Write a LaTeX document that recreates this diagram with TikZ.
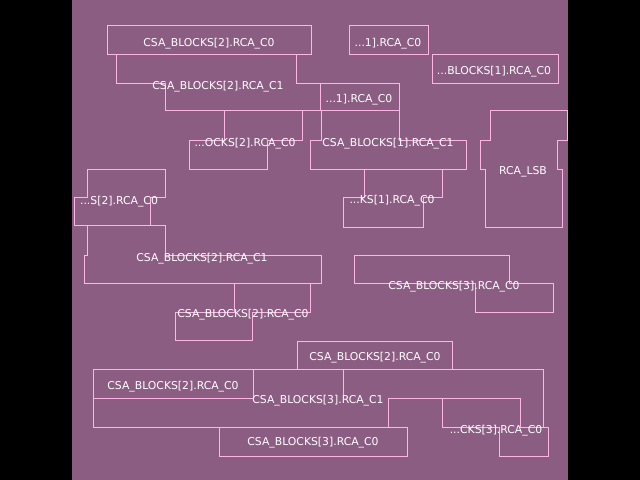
\documentclass[tikz,border=0pt]{standalone}
\usepackage{fontspec}
\setsansfont{DejaVu Sans}
\usetikzlibrary{positioning}
\definecolor{floorbg}{RGB}{140,93,130}
\definecolor{regionline}{RGB}{255,180,230}
\tikzset{
  region/.style={draw=regionline, line width=0.7pt},
  blocklabel/.style={text=white, inner sep=0pt, yshift=-1.4pt, font=\sffamily\fontsize{7.7}{8}\selectfont},
}

\begin{document}
\begin{tikzpicture}[x=0.025cm,y=-0.025cm]
        \useasboundingbox (0,0) rectangle (640,480);
        \fill[black] (0,0) rectangle (640,480);
        \fill[floorbg] (72,0) rectangle (568,480);

        % regions, top part
        \draw[region] (107,25) rectangle (311,54);
        \draw[region] (349,25) rectangle (428,54);
        \draw[region] (116,54) -- (296,54) -- (296,83) -- (320,83) -- (320,110) -- (165,110) -- (165,83) -- (116,83) -- cycle;
        \draw[region] (432,54) rectangle (558,83);
        \draw[region] (320,83) rectangle (399,110);
        \draw[region] (224,110) -- (302,110) -- (302,140) -- (267,140) -- (267,169) -- (189,169) -- (189,140) -- (224,140) -- cycle;
        \draw[region] (321,110) -- (399,110) -- (399,140) -- (466,140) -- (466,169) -- (310,169) -- (310,140) -- (321,140) -- cycle;
        \draw[region] (490,110) -- (567,110) -- (567,140) -- (557,140) -- (557,169) -- (562,169) -- (562,227) -- (485,227) -- (485,169) -- (480,169) -- (480,140) -- (490,140) -- cycle;
        \draw[region] (87,169) -- (165,169) -- (165,197) -- (150,197) -- (150,225) -- (74,225) -- (74,197) -- (87,197) -- cycle;
        \draw[region] (364,169) -- (442,169) -- (442,197) -- (423,197) -- (423,227) -- (343,227) -- (343,197) -- (364,197) -- cycle;

        % regions, lower part
        \draw[region] (87,225) -- (165,225) -- (165,255) -- (321,255) -- (321,283) -- (84,283) -- (84,255) -- (87,255) -- cycle;
        \draw[region] (354,255) -- (509,255) -- (509,283) -- (553,283) -- (553,312) -- (475,312) -- (475,283) -- (354,283) -- cycle;
        \draw[region] (234,283) -- (310,283) -- (310,312) -- (252,312) -- (252,340) -- (175,340) -- (175,312) -- (234,312) -- cycle;
        \draw[region] (297,341) rectangle (452,369);
        \draw[region] (93,369) rectangle (253,398);
        \draw[region] (93,398) -- (253,398) -- (253,369) -- (543,369) -- (543,427) -- (520,427) -- (520,398) -- (388,398) -- (388,427) -- (93,427) -- cycle;
        \draw[region] (343,369) -- (343,398);
        \draw[region] (442,398) -- (520,398) -- (520,427) -- (548,427) -- (548,456) -- (499,456) -- (499,427) -- (442,427) -- cycle;
        \draw[region] (219,427) rectangle (407,456);

        % labels
        \node [blocklabel] (c2a) at (209,42) {CSA\_BLOCKS[2].RCA\_C0};
        \node [blocklabel] (c1a) at (388,42) {...1].RCA\_C0};
        \node [blocklabel] (c2b) at (218,85) {CSA\_BLOCKS[2].RCA\_C1};
        \node [blocklabel] (c1b) at (494,70) {...BLOCKS[1].RCA\_C0};
        \node [blocklabel] (c1c) at (359,98) {...1].RCA\_C0};
        \node [blocklabel] (c2c) at (245,142) {...OCKS[2].RCA\_C0};
        \node [blocklabel] (c1d) at (388,142) {CSA\_BLOCKS[1].RCA\_C1};
        \node [blocklabel] (lsb) at (523,170) {RCA\_LSB};
        \node [blocklabel] (c2d) at (119,200) {...S[2].RCA\_C0};
        \node [blocklabel] (c1e) at (392,199) {...KS[1].RCA\_C0};
        \node [blocklabel] (c2e) at (202,257) {CSA\_BLOCKS[2].RCA\_C1};
        \node [blocklabel] (c3a) at (454,285) {CSA\_BLOCKS[3].RCA\_C0};
        \node [blocklabel] (c2f) at (243,313) {CSA\_BLOCKS[2].RCA\_C0};
        \node [blocklabel] (c2g) at (375,356) {CSA\_BLOCKS[2].RCA\_C0};
        \node [blocklabel] (c2h) at (173,385) {CSA\_BLOCKS[2].RCA\_C0};
        \node [blocklabel] (c3b) at (318,399) {CSA\_BLOCKS[3].RCA\_C1};
        \node [blocklabel] (c3c) at (496,429) {...CKS[3].RCA\_C0};
        \node [blocklabel] (c3d) at (313,441) {CSA\_BLOCKS[3].RCA\_C0};
\end{tikzpicture}
\end{document}
